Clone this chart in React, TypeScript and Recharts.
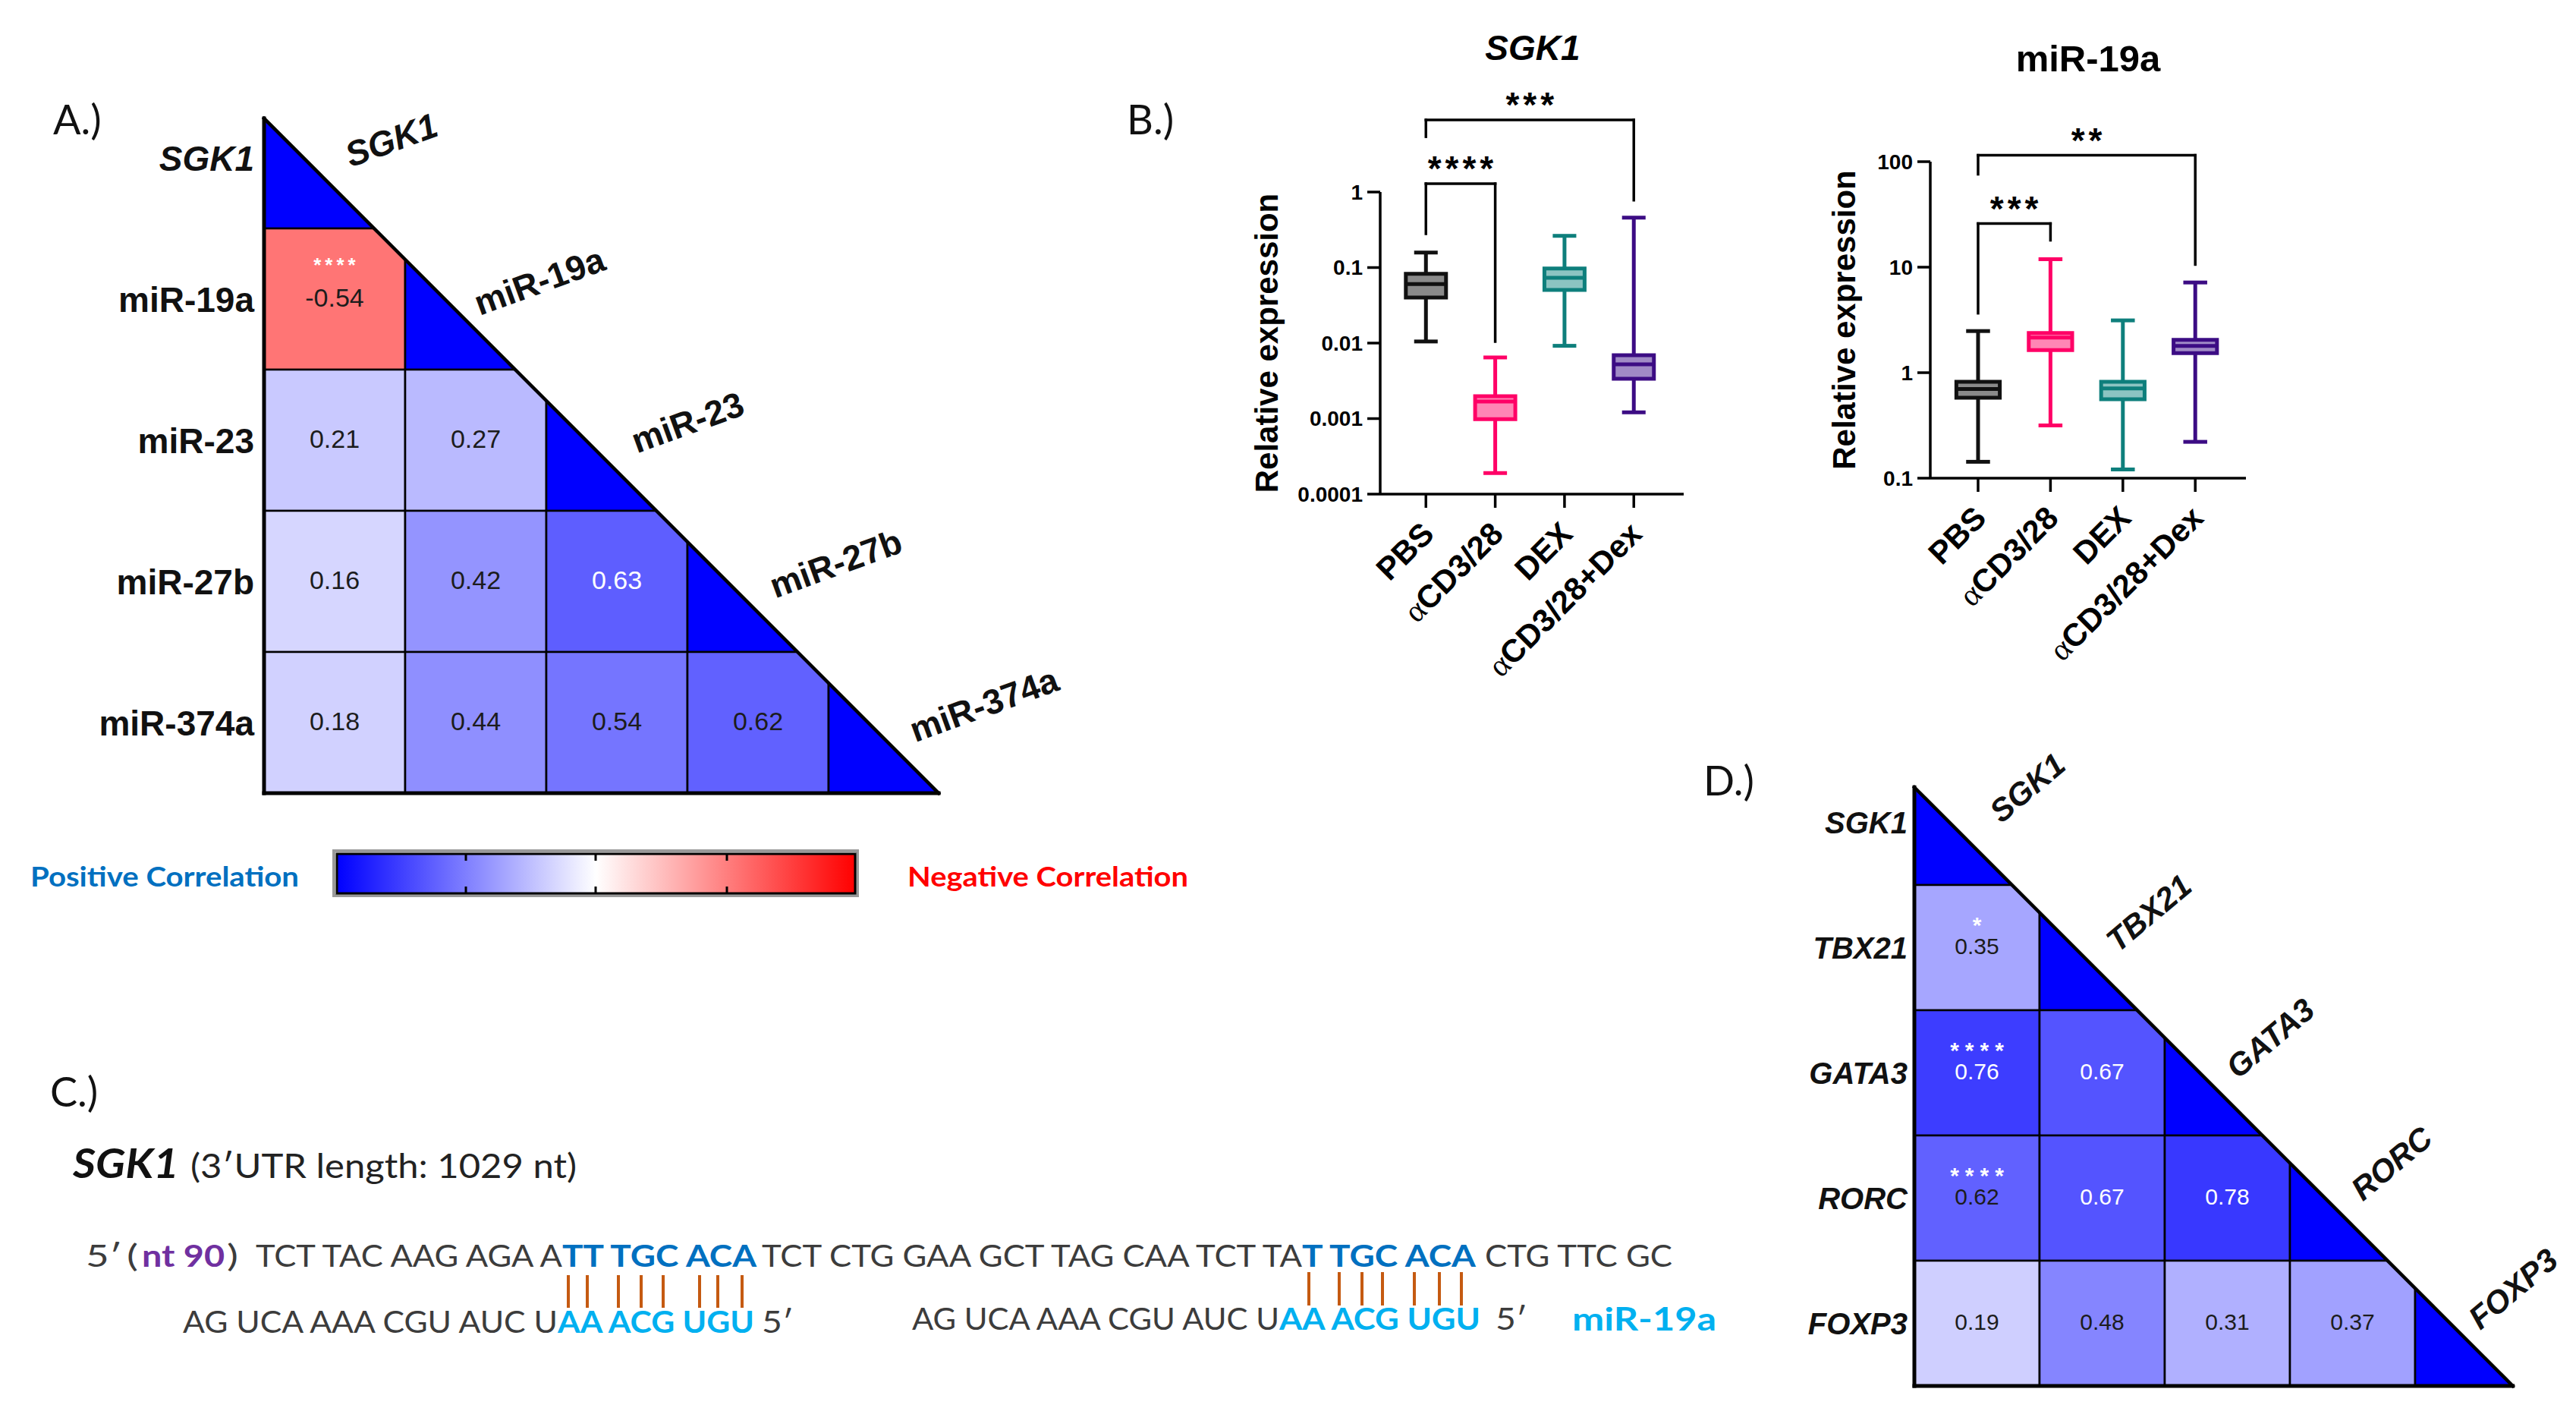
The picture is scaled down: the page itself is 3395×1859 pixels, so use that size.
import React from 'react';
import { ScatterChart, Scatter, XAxis, YAxis, ReferenceArea, ReferenceLine, ReferenceDot } from 'recharts';

const ARIAL = "'Liberation Sans', Arial, Helvetica, sans-serif";
const CALIBRI = "Lato, 'Noto Sans', 'Open Sans', sans-serif";

// ---------------- Panel A : correlation heatmap (SGK1 vs miRNAs)
const panelALabels = ['SGK1', 'miR-19a', 'miR-23', 'miR-27b', 'miR-374a'];
const panelAItalic = [true, false, false, false, false];
const panelARow1 = [-0.54];
const panelARow2 = [0.21, 0.27];
const panelARow3 = [0.16, 0.42, 0.63];
const panelARow4 = [0.18, 0.44, 0.54, 0.62];
const panelAStars = [{ row: 1, col: 0, stars: '****' }];

// ---------------- Panel D : correlation heatmap (SGK1 vs TFs)
const panelDLabels = ['SGK1', 'TBX21', 'GATA3', 'RORC', 'FOXP3'];
const panelDItalic = [true, true, true, true, true];
const panelDRow1 = [0.35];
const panelDRow2 = [0.76, 0.67];
const panelDRow3 = [0.62, 0.67, 0.78];
const panelDRow4 = [0.19, 0.48, 0.31, 0.37];
const panelDStars = [
  { row: 1, col: 0, stars: '*' },
  { row: 2, col: 0, stars: '****' },
  { row: 3, col: 0, stars: '****' },
];

// ---------------- Panel B : box plots
const boxCategories = ['PBS', 'αCD3/28', 'DEX', 'αCD3/28+Dex'];
const boxStroke = ['#111111', '#FF0066', '#0E7F7C', '#3C0C84'];
const boxFill = ['#8A8A8A', '#FF86B5', '#8CC4C2', '#A08AC6'];

const sgk1Min = [0.0105, 0.00019, 0.0092, 0.00121];
const sgk1Q1 = [0.0401, 0.00098, 0.0506, 0.00337];
const sgk1Median = [0.0605, 0.00168, 0.0731, 0.00523];
const sgk1Q3 = [0.0826, 0.00198, 0.0973, 0.0069];
const sgk1Max = [0.158, 0.00645, 0.263, 0.458];
const sgk1Ticks = [0.0001, 0.001, 0.01, 0.1, 1];
const sgk1TickLabels = ['0.0001', '0.001', '0.01', '0.1', '1'];
const sgk1Brackets = [
  { from: 0, to: 1, y: 1.29, leftEnd: 0.28, rightEnd: 0.0105, label: '****' },
  { from: 0, to: 3, y: 9.0, leftEnd: 5.4, rightEnd: 0.78, label: '***' },
];

const mir19aMin = [0.143, 0.316, 0.121, 0.221];
const mir19aQ1 = [0.58, 1.64, 0.56, 1.53];
const mir19aMedian = [0.7, 2.15, 0.71, 1.79];
const mir19aQ3 = [0.82, 2.38, 0.82, 2.05];
const mir19aMax = [2.48, 11.9, 3.13, 7.16];
const mir19aTicks = [0.1, 1, 10, 100];
const mir19aTickLabels = ['0.1', '1', '10', '100'];
const mir19aBrackets = [
  { from: 0, to: 1, y: 25.9, leftEnd: 3.66, rightEnd: 18, label: '***' },
  { from: 0, to: 3, y: 115, leftEnd: 76, rightEnd: 10.6, label: '**' },
];

// ---------------- Panel C : sequence text
const GRAY = '#3C3C3C';
const PURPLE = '#7030A0';
const BLUE = '#0070C0';
const LBLUE = '#00B0F0';
const seqLine1 = [
  { t: '5′', x0: 113, x1: 161, c: GRAY, b: false },
  { t: '(', x0: 167, x1: 182, c: GRAY, b: false },
  { t: 'nt 90', x0: 187, x1: 296, c: PURPLE, b: true },
  { t: ')', x0: 299, x1: 314, c: GRAY, b: false },
  { t: 'TCT TAC AAG AGA A', x0: 337, x1: 741, c: GRAY, b: false },
  { t: 'TT TGC ACA', x0: 741, x1: 997, c: BLUE, b: true },
  { t: 'TCT CTG GAA GCT TAG CAA TCT TA', x0: 1004, x1: 1716, c: GRAY, b: false },
  { t: 'T TGC ACA', x0: 1716, x1: 1945, c: BLUE, b: true },
  { t: 'CTG TTC GC', x0: 1957, x1: 2204, c: GRAY, b: false },
];
const seqLine2 = [
  { t: 'AG UCA AAA CGU AUC U', x0: 241, x1: 735, c: GRAY, b: false, y: 1756 },
  { t: 'AA ACG UGU', x0: 735, x1: 994, c: LBLUE, b: true, y: 1756 },
  { t: '5′', x0: 1004, x1: 1046, c: GRAY, b: false, y: 1756 },
  { t: 'AG UCA AAA CGU AUC U', x0: 1202, x1: 1686, c: GRAY, b: false, y: 1752 },
  { t: 'AA ACG UGU', x0: 1686, x1: 1951, c: LBLUE, b: true, y: 1752 },
  { t: '5′', x0: 1971, x1: 2013, c: GRAY, b: false, y: 1752 },
  { t: 'miR-19a', x0: 2072, x1: 2262, c: LBLUE, b: true, y: 1753 },
];
const pairLines1 = [749, 774, 815, 845, 874, 922, 946, 978];
const pairLines2 = [1725, 1765, 1795, 1822, 1864, 1897, 1926];

// ---------------- helpers
const heatColor = (v: number) => {
  if (v >= 0) {
    const c = Math.round(255 * (1 - v));
    return `rgb(${c},${c},255)`;
  }
  const c = Math.round(255 * (1 + v));
  return `rgb(255,${c},${c})`;
};

const clipToTriangle = (x: number, y: number, w: number, h: number, c: number, r: number, k: number) => {
  const pts = [[x, y], [x + w, y], [x + w, y + h], [x, y + h]];
  const f = (p: number[]) => {
    const u = c - 0.5 + (p[0] - x) / w;
    const v = r - 0.5 + (p[1] - y) / h;
    return v - u - k;
  };
  const out: number[][] = [];
  for (let i = 0; i < 4; i++) {
    const a = pts[i];
    const b = pts[(i + 1) % 4];
    const fa = f(a);
    const fb = f(b);
    if (fa >= 0) out.push(a);
    if ((fa >= 0) !== (fb >= 0)) {
      const t = fa / (fa - fb);
      out.push([a[0] + t * (b[0] - a[0]), a[1] + t * (b[1] - a[1])]);
    }
  }
  return out.map((p) => `${p[0]},${p[1]}`).join(' ');
};

function Heatmap(props: any) {
  const { labels, italic, rows, stars, cfg } = props;
  const k = 0.22;
  const n = labels.length;
  const cells: any[] = [];
  for (let r = 0; r < n; r++) {
    for (let c = 0; c <= r; c++) {
      const value = r === c ? 1 : rows[r - 1][c];
      const s = stars.find((q: any) => q.row === r && q.col === c);
      cells.push({ u: c, v: r, value, diag: r === c, stars: s ? s.stars : '' });
    }
  }
  const renderCell = (p: any, cell: any) => {
    const { x, y, width, height } = p;
    if (!isFinite(x) || !isFinite(width)) return <g />;
    const pts = clipToTriangle(x, y, width, height, cell.u, cell.v, k);
    const cx = x + width / 2;
    const cy = y + height / 2;
    const txtCol = cell.value >= 0.63 ? '#FFFFFF' : '#1C1C1C';
    return (
      <g>
        <polygon points={pts} fill={heatColor(cell.value)} stroke="#000" strokeWidth={2.6} />
        {!cell.diag && (
          <text x={cx} y={cy + cfg.valDy} textAnchor="middle" fontFamily={ARIAL} fontSize={cfg.valFont} fill={txtCol}>
            {cell.value.toFixed(2)}
          </text>
        )}
        {cell.stars && (
          <text
            x={cx + cfg.starLs / 2}
            y={cy + cfg.starDy}
            textAnchor="middle"
            fontFamily={ARIAL}
            fontWeight={700}
            fontSize={cfg.starFont}
            letterSpacing={cfg.starLs}
            fill="#FFFFFF"
          >
            {cell.stars}
          </text>
        )}
      </g>
    );
  };
  const rowTick = (p: any) => {
    const i = p.payload.value;
    return (
      <text
        x={p.x}
        y={p.y}
        dy="0.36em"
        textAnchor="end"
        fontFamily={ARIAL}
        fontWeight={700}
        fontStyle={italic[i] ? 'italic' : 'normal'}
        fontSize={cfg.rowFont}
        fill="#111"
      >
        {labels[i]}
      </text>
    );
  };
  const lines = [
    [{ x: -0.5, y: -0.5 + k }, { x: -0.5, y: n - 0.5 }],
    [{ x: -0.5, y: n - 0.5 }, { x: n - 0.5 - k, y: n - 0.5 }],
    [{ x: -0.5, y: -0.5 + k }, { x: n - 0.5 - k, y: n - 0.5 }],
  ];
  return (
    <div style={{ position: 'absolute', left: cfg.left, top: cfg.top }}>
      <ScatterChart width={cfg.width} height={cfg.height} margin={cfg.margin}>
        <XAxis type="number" dataKey="u" domain={[-0.5, n - 0.5]} hide />
        <YAxis
          type="number"
          dataKey="v"
          domain={[-0.5, n - 0.5]}
          reversed
          ticks={labels.map((_: any, i: number) => i)}
          interval={0}
          width={cfg.yWidth}
          axisLine={false}
          tickLine={false}
          tickSize={0}
          tickMargin={cfg.tickMargin}
          tick={rowTick}
        />
        {cells.map((cell, i) => (
          <ReferenceArea
            key={`cell-${i}`}
            x1={cell.u - 0.5}
            x2={cell.u + 0.5}
            y1={cell.v - 0.5}
            y2={cell.v + 0.5}
            ifOverflow="visible"
            shape={(p: any) => renderCell(p, cell)}
          />
        ))}
        {lines.map((seg, i) => (
          <ReferenceLine
            key={`edge-${i}`}
            segment={seg}
            ifOverflow="visible"
            stroke="#000"
            strokeWidth={i === 2 ? 4.5 : 5}
            strokeLinecap="square"
          />
        ))}
        {labels.map((lab: string, i: number) => (
          <ReferenceDot
            key={`col-${i}`}
            x={cfg.colU(i)}
            y={cfg.colV(i)}
            r={0}
            ifOverflow="visible"
            shape={(p: any) => (
              <text
                x={p.cx}
                y={p.cy}
                dy="0.36em"
                transform={`rotate(${cfg.colAngle} ${p.cx} ${p.cy})`}
                textAnchor="middle"
                fontFamily={ARIAL}
                fontWeight={700}
                fontStyle={italic[i] ? 'italic' : 'normal'}
                fontSize={cfg.colFont}
                fill="#111"
              >
                {lab}
              </text>
            )}
          />
        ))}
        <Scatter data={cells} shape={() => <g />} isAnimationActive={false} />
      </ScatterChart>
    </div>
  );
}

const CatTick = (p: any) => {
  const name = boxCategories[p.payload.value];
  const ax = p.x + 13;
  const ay = p.y + 35;
  const hasAlpha = name.startsWith('α');
  return (
    <text
      x={ax}
      y={ay}
      transform={`rotate(-45 ${ax} ${ay})`}
      textAnchor="end"
      fontFamily={ARIAL}
      fontWeight={700}
      fontSize={42}
      fill="#000"
    >
      {hasAlpha ? (
        <>
          <tspan fontFamily="'Liberation Serif', 'DejaVu Serif', serif" fontWeight={400}>α</tspan>
          <tspan>{name.slice(1)}</tspan>
        </>
      ) : (
        name
      )}
    </text>
  );
};

function BoxPlot(props: any) {
  const { cfg, mins, q1s, meds, q3s, maxs, brackets, yTicks, yTickLabels, domain } = props;
  const data = meds.map((m: number, i: number) => ({ x: i, y: m }));
  const hw = cfg.halfBox;
  const cap = cfg.halfCap;
  const items: any[] = [];
  meds.forEach((med: number, i: number) => {
    const col = boxStroke[i];
    items.push(
      <ReferenceLine key={`wl-${i}`} segment={[{ x: i, y: mins[i] }, { x: i, y: q1s[i] }]} stroke={col} strokeWidth={5} />,
      <ReferenceLine key={`wu-${i}`} segment={[{ x: i, y: q3s[i] }, { x: i, y: maxs[i] }]} stroke={col} strokeWidth={5} />,
      <ReferenceLine key={`cl-${i}`} segment={[{ x: i - cap, y: mins[i] }, { x: i + cap, y: mins[i] }]} stroke={col} strokeWidth={5} />,
      <ReferenceLine key={`cu-${i}`} segment={[{ x: i - cap, y: maxs[i] }, { x: i + cap, y: maxs[i] }]} stroke={col} strokeWidth={5} />,
      <ReferenceArea
        key={`bx-${i}`}
        x1={i - hw}
        x2={i + hw}
        y1={q1s[i]}
        y2={q3s[i]}
        fill={boxFill[i]}
        fillOpacity={1}
        stroke={col}
        strokeWidth={5}
        ifOverflow="visible"
      />,
      <ReferenceLine key={`md-${i}`} segment={[{ x: i - hw, y: med }, { x: i + hw, y: med }]} stroke={col} strokeWidth={5} />
    );
  });
  brackets.forEach((b: any, j: number) => {
    const st = { stroke: '#000', strokeWidth: 3.5, strokeLinecap: 'square' as const };
    items.push(
      <ReferenceLine key={`bl-${j}`} segment={[{ x: b.from, y: b.leftEnd }, { x: b.from, y: b.y }]} ifOverflow="visible" {...st} />,
      <ReferenceLine key={`bh-${j}`} segment={[{ x: b.from, y: b.y }, { x: b.to, y: b.y }]} ifOverflow="visible" {...st} />,
      <ReferenceLine key={`br-${j}`} segment={[{ x: b.to, y: b.y }, { x: b.to, y: b.rightEnd }]} ifOverflow="visible" {...st} />,
      <ReferenceDot
        key={`bs-${j}`}
        x={(b.from + b.to) / 2}
        y={b.y}
        r={0}
        ifOverflow="visible"
        shape={(p: any) => (
          <text
            x={p.cx + 2.5}
            y={p.cy - 4}
            textAnchor="middle"
            fontFamily={ARIAL}
            fontWeight={700}
            fontSize={46}
            letterSpacing={5}
            fill="#000"
          >
            {b.label}
          </text>
        )}
      />
    );
  });
  return (
    <div style={{ position: 'absolute', left: cfg.left, top: cfg.top }}>
      <ScatterChart width={cfg.width} height={cfg.height} margin={cfg.margin}>
        <XAxis
          type="number"
          dataKey="x"
          domain={cfg.xDomain}
          ticks={[0, 1, 2, 3]}
          interval={0}
          height={30}
          tickSize={18}
          axisLine={{ stroke: '#000', strokeWidth: 3.5 }}
          tickLine={{ stroke: '#000', strokeWidth: 3.5 }}
          tick={(p: any) => <CatTick {...p} />}
        />
        <YAxis
          type="number"
          dataKey="y"
          scale="log"
          domain={domain}
          ticks={yTicks}
          interval={0}
          width={cfg.yWidth}
          tickSize={17}
          tickMargin={6}
          axisLine={{ stroke: '#000', strokeWidth: 3.5 }}
          tickLine={{ stroke: '#000', strokeWidth: 3.5 }}
          tick={{ fontSize: 28, fontWeight: 700, fill: '#000', fontFamily: ARIAL }}
          tickFormatter={(v: number) => {
            const idx = yTicks.indexOf(v);
            return idx >= 0 ? yTickLabels[idx] : String(v);
          }}
          label={{
            value: 'Relative expression',
            angle: -90,
            position: 'insideLeft',
            offset: cfg.labelOffset,
            fontSize: 42,
            fontWeight: 700,
            fill: '#000',
            fontFamily: ARIAL,
            style: { textAnchor: 'middle' },
          }}
        />
        {items}
        <Scatter data={data} shape={() => <g />} isAnimationActive={false} />
      </ScatterChart>
    </div>
  );
}

const cfgA = {
  left: 0,
  top: 0,
  width: 1480,
  height: 1100,
  margin: { top: 115, right: 202, bottom: 55, left: 0 },
  yWidth: 348,
  tickMargin: 13,
  rowFont: 46,
  colFont: 46,
  colAngle: -20,
  colU: (r: number) => 0.4 + 1.05 * r,
  colV: (r: number) => r - 0.13,
  valFont: 34,
  valDy: 10,
  starFont: 26,
  starDy: -36,
  starLs: 5,
};

const cfgD = {
  left: 2200,
  top: 960,
  width: 1195,
  height: 899,
  margin: { top: 41, right: 47, bottom: 33, left: 0 },
  yWidth: 323,
  tickMargin: 9,
  rowFont: 40,
  colFont: 42,
  colAngle: -40,
  colU: (r: number) => 0.4 + 0.97 * r,
  colV: (r: number) => r - 0.28,
  valFont: 30,
  valDy: 8,
  starFont: 30,
  starDy: -20,
  starLs: 8,
};

const cfgSGK1 = {
  left: 1560,
  top: 0,
  width: 700,
  height: 920,
  margin: { top: 253, right: 41, bottom: 239, left: 0 },
  yWidth: 259,
  labelOffset: 109,
  xDomain: [-0.66, 3.72],
  halfBox: 0.29,
  halfCap: 0.17,
};

const cfgMIR = {
  left: 2290,
  top: 0,
  width: 720,
  height: 920,
  margin: { top: 213, right: 50, bottom: 260, left: 0 },
  yWidth: 254,
  labelOffset: 140,
  xDomain: [-0.66, 3.7],
  halfBox: 0.3,
  halfCap: 0.165,
};

function Overlay() {
  return (
    <svg width={3395} height={1859} style={{ position: 'absolute', left: 0, top: 0, pointerEvents: 'none' }}>
      <defs>
        <linearGradient id="corrGrad" x1="0" x2="1" y1="0" y2="0">
          <stop offset="0%" stopColor="#0000FF" />
          <stop offset="50%" stopColor="#FFFFFF" />
          <stop offset="100%" stopColor="#FF0000" />
        </linearGradient>
      </defs>
      {/* panel letters */}
      <text x={70} y={177} fontFamily={CALIBRI} fontSize={54} fill="#111">A.)</text>
      <text x={1485} y={177} fontFamily={CALIBRI} fontSize={54} fill="#111">B.)</text>
      <text x={66} y={1458} fontFamily={CALIBRI} fontSize={54} fill="#111">C.)</text>
      <text x={2245} y={1048} fontFamily={CALIBRI} fontSize={54} fill="#111">D.)</text>

      {/* panel B titles */}
      <text x={2020} y={79} textAnchor="middle" fontFamily={ARIAL} fontWeight={700} fontStyle="italic" fontSize={46} fill="#000">SGK1</text>
      <text x={2752} y={94} textAnchor="middle" fontFamily={ARIAL} fontWeight={700} fontSize={49} fill="#000">miR-19a</text>

      {/* colour bar legend */}
      <rect x={440} y={1121} width={690} height={59} fill="none" stroke="#9A9A9A" strokeWidth={4} />
      <rect x={444} y={1125} width={683} height={52} fill="url(#corrGrad)" stroke="#000" strokeWidth={3} />
      {[614, 785, 958].map((tx) => (
        <g key={tx}>
          <line x1={tx} x2={tx} y1={1125} y2={1134} stroke="#000" strokeWidth={3} />
          <line x1={tx} x2={tx} y1={1168} y2={1177} stroke="#000" strokeWidth={3} />
        </g>
      ))}
      <text x={40} y={1168} fontFamily={CALIBRI} fontWeight={700} fontSize={36} fill="#0070C0" textLength={354} lengthAdjust="spacingAndGlyphs">Positive Correlation</text>
      <text x={1196} y={1168} fontFamily={CALIBRI} fontWeight={700} fontSize={36} fill="#FF0000" textLength={370} lengthAdjust="spacingAndGlyphs">Negative Correlation</text>

      {/* panel C */}
      <text x={96} y={1552} fontFamily={CALIBRI} fontWeight={700} fontStyle="italic" fontSize={54} fill="#111" textLength={140} lengthAdjust="spacingAndGlyphs">SGK1</text>
      <text x={251} y={1552} fontFamily={CALIBRI} fontSize={45} fill="#222" textLength={509} lengthAdjust="spacingAndGlyphs">(3′UTR length: 1029 nt)</text>
      {seqLine1.map((s, i) => (
        <text key={`l1-${i}`} x={s.x0} y={1669} fontFamily={CALIBRI} fontSize={40} fontWeight={s.b ? 700 : 400} fill={s.c} textLength={s.x1 - s.x0} lengthAdjust="spacingAndGlyphs">{s.t}</text>
      ))}
      {seqLine2.map((s, i) => (
        <text key={`l2-${i}`} x={s.x0} y={s.y} fontFamily={CALIBRI} fontSize={s.t === 'miR-19a' ? 42 : 40} fontWeight={s.b ? 700 : 400} fill={s.c} textLength={s.x1 - s.x0} lengthAdjust="spacingAndGlyphs">{s.t}</text>
      ))}
      {pairLines1.map((x) => (
        <line key={`p1-${x}`} x1={x} x2={x} y1={1680} y2={1723} stroke="#C55A11" strokeWidth={4} />
      ))}
      {pairLines2.map((x) => (
        <line key={`p2-${x}`} x1={x} x2={x} y1={1676} y2={1720} stroke="#C55A11" strokeWidth={4} />
      ))}
    </svg>
  );
}

export default function App() {
  return (
    <div style={{ position: 'absolute', left: 0, top: 0, width: 3395, height: 1859, background: '#fff', overflow: 'hidden' }}>
      <Heatmap labels={panelALabels} italic={panelAItalic} rows={[panelARow1, panelARow2, panelARow3, panelARow4]} stars={panelAStars} cfg={cfgA} />
      <Heatmap labels={panelDLabels} italic={panelDItalic} rows={[panelDRow1, panelDRow2, panelDRow3, panelDRow4]} stars={panelDStars} cfg={cfgD} />
      <BoxPlot
        cfg={cfgSGK1}
        mins={sgk1Min}
        q1s={sgk1Q1}
        meds={sgk1Median}
        q3s={sgk1Q3}
        maxs={sgk1Max}
        brackets={sgk1Brackets}
        yTicks={sgk1Ticks}
        yTickLabels={sgk1TickLabels}
        domain={[0.0001, 1]}
      />
      <BoxPlot
        cfg={cfgMIR}
        mins={mir19aMin}
        q1s={mir19aQ1}
        meds={mir19aMedian}
        q3s={mir19aQ3}
        maxs={mir19aMax}
        brackets={mir19aBrackets}
        yTicks={mir19aTicks}
        yTickLabels={mir19aTickLabels}
        domain={[0.1, 100]}
      />
      <Overlay />
    </div>
  );
}
